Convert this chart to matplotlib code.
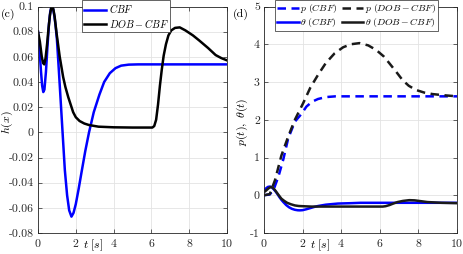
import matplotlib
matplotlib.use("Agg")
import matplotlib.pyplot as plt

plt.rcParams['font.family'] = ['cmr10', 'DejaVu Serif']
plt.rcParams['mathtext.fontset'] = 'cm'
plt.rcParams['axes.unicode_minus'] = False
plt.rcParams['axes.formatter.use_mathtext'] = True

# (c) h(x)
t_h_cbf = [0, 0.08, 0.16, 0.22, 0.28, 0.34, 0.42, 0.5, 0.58, 0.65, 0.71, 0.75, 0.8,
           0.86, 0.93, 1.0, 1.1, 1.2, 1.3, 1.42, 1.54, 1.65, 1.77, 1.88, 2.0, 2.15,
           2.3, 2.5, 2.7, 2.95, 3.25, 3.5, 3.8, 4.1, 4.4, 4.8, 5.3, 6, 8, 10]
h_cbf = [0.08, 0.066, 0.048, 0.037, 0.032, 0.034, 0.048, 0.068, 0.086, 0.096,
         0.0995, 0.1, 0.098, 0.093, 0.085, 0.074, 0.05, 0.025, 0.0, -0.03, -0.05,
         -0.062, -0.067, -0.064, -0.057, -0.045, -0.032, -0.015, 0.0, 0.016, 0.03,
         0.04, 0.047, 0.051, 0.053, 0.0538, 0.054, 0.054, 0.054, 0.054]

t_h_dob = [0, 0.1, 0.2, 0.27, 0.33, 0.4, 0.48, 0.56, 0.63, 0.7, 0.75, 0.81, 0.88,
           0.98, 1.15, 1.33, 1.45, 1.6, 1.86, 2.0, 2.2, 2.45, 2.7, 3.2, 4, 5, 6.05,
           6.15, 6.25, 6.35, 6.45, 6.55, 6.65, 6.77, 6.9, 7.05, 7.25, 7.5, 7.8, 8.2,
           8.53, 9.0, 9.4, 9.7, 10]
h_dob = [0.08, 0.072, 0.06, 0.055, 0.054, 0.059, 0.07, 0.083, 0.093, 0.099, 0.1,
         0.098, 0.092, 0.079, 0.06, 0.044, 0.036, 0.028, 0.016, 0.012, 0.009, 0.007,
         0.0058, 0.0045, 0.004, 0.0038, 0.0038, 0.005, 0.01, 0.022, 0.037, 0.05,
         0.061, 0.07, 0.077, 0.081, 0.083, 0.0834, 0.081, 0.077, 0.073, 0.067,
         0.0614, 0.059, 0.0572]

# (d) p(t), theta(t)
t_p_cbf = [0, 0.3, 0.5, 0.75, 1.0, 1.25, 1.6, 1.85, 2.0, 2.2, 2.5, 2.8, 3.2, 3.7, 10]
p_cbf = [0, 0.02, 0.15, 0.5, 0.95, 1.5, 1.95, 2.1, 2.2, 2.35, 2.48, 2.55, 2.6,
         2.62, 2.62]

t_p_dob = [0, 0.3, 0.57, 0.9, 1.25, 1.6, 2.03, 2.4, 2.8, 3.2, 3.66, 4.1, 4.5, 4.95,
           5.4, 5.81, 6.2, 6.49, 6.85, 7.18, 7.5, 7.87, 8.3, 8.73, 9.3, 10]
p_dob = [0, 0.03, 0.4, 1.05, 1.55, 2.0, 2.44, 2.85, 3.19, 3.5, 3.76, 3.92, 4.0,
         4.03, 3.97, 3.85, 3.68, 3.5, 3.27, 3.05, 2.9, 2.79, 2.72, 2.68, 2.65, 2.62]

t_th_cbf = [0, 0.1, 0.2, 0.3, 0.4, 0.5, 0.6, 0.7, 0.8, 0.9, 1.0, 1.15, 1.3, 1.45,
            1.6, 1.75, 1.86, 2.0, 2.2, 2.4, 2.6, 2.8, 2.97, 3.2, 3.4, 3.83, 4.5, 5,
            10]
th_cbf = [0.13, 0.18, 0.22, 0.23, 0.21, 0.16, 0.1, 0.03, -0.05, -0.12, -0.18,
          -0.26, -0.32, -0.36, -0.385, -0.398, -0.4, -0.395, -0.37, -0.34, -0.31,
          -0.285, -0.27, -0.25, -0.24, -0.22, -0.21, -0.2, -0.2]

t_th_dob = [0, 0.12, 0.25, 0.36, 0.46, 0.55, 0.65, 0.75, 0.9, 1.05, 1.2, 1.4, 1.6,
            1.8, 2.0, 2.45, 6.15, 6.3, 6.5, 6.7, 6.92, 7.2, 7.53, 7.8, 8.1, 8.47,
            9.2, 10]
th_dob = [0.08, 0.13, 0.19, 0.22, 0.2, 0.15, 0.08, 0.01, -0.09, -0.15, -0.2,
          -0.24, -0.27, -0.285, -0.29, -0.3, -0.3, -0.29, -0.26, -0.22, -0.18,
          -0.15, -0.13, -0.135, -0.155, -0.18, -0.2, -0.21]

xticks = [0, 2, 4, 6, 8, 10]
h_ticks = [-0.08, -0.06, -0.04, -0.02, 0, 0.02, 0.04, 0.06, 0.08, 0.1]
h_ticklabels = ['-0.08', '-0.06', '-0.04', '-0.02', '0', '0.02', '0.04', '0.06',
                '0.08', '0.1']
pd_ticks = [-1, 0, 1, 2, 3, 4, 5]
pd_ticklabels = ['-1', '0', '1', '2', '3', '4', '5']

W, H = 463, 254
fig = plt.figure(figsize=(W / 100, H / 100), dpi=100)
ax1 = fig.add_axes([38 / W, (H - 233) / H, 189 / W, 226.5 / H])
ax2 = fig.add_axes([264 / W, (H - 233) / H, 193 / W, 226.5 / H])

lw = 1.8
dash = (3.4, 2.2)

ax1.plot(t_h_cbf, h_cbf, color='#0000ff', lw=lw, label=r'$CBF$')
ax1.plot(t_h_dob, h_dob, color='k', lw=lw, label=r'$DOB-CBF$')
ax1.set_xlim(0, 10)
ax1.set_ylim(-0.08, 0.1)
ax1.set_yticks(h_ticks)
ax1.set_yticklabels(h_ticklabels)
ax1.set_ylabel(r'$h(x)$', fontsize=8.5)
ax1.yaxis.set_label_coords(-0.122, 0.49)

l_pc, = ax2.plot(t_p_cbf, p_cbf, color='#0000ff', lw=lw, dashes=dash,
                 label=r'$p\ (CBF)$')
l_pd, = ax2.plot(t_p_dob, p_dob, color='#1a1a1a', lw=lw, dashes=dash,
                 label=r'$p\ (DOB-CBF)$')
l_tc, = ax2.plot(t_th_cbf, th_cbf, color='#0000ff', lw=lw, label=r'$\theta\ (CBF)$')
l_td, = ax2.plot(t_th_dob, th_dob, color='#1a1a1a', lw=lw,
                 label=r'$\theta\ (DOB-CBF)$')
ax2.set_xlim(0, 10)
ax2.set_ylim(-1, 5)
ax2.set_yticks(pd_ticks)
ax2.set_yticklabels(pd_ticklabels)
ax2.set_ylabel(r'$p(t),\ \theta(t)$', fontsize=8.5)
ax2.yaxis.set_label_coords(-0.073, 0.49)

for ax in (ax1, ax2):
    ax.set_xticks(xticks)
    ax.grid(True, color='#e3e3e3', lw=0.6)
    ax.set_axisbelow(True)
    ax.tick_params(direction='in', length=3, width=0.5, labelsize=8.5,
                   top=True, right=True, colors='#262626', pad=3)
    for s in ax.spines.values():
        s.set_color('#262626')
        s.set_linewidth(0.6)
    ax.set_xlabel(r'$t\ [s]$', fontsize=8.5, va='center')
    ax.xaxis.set_label_coords(0.29, -0.053)

leg1 = ax1.legend(loc='upper center', bbox_to_anchor=(0.466, 1.027), fontsize=7.3,
                  fancybox=False, edgecolor='#262626', framealpha=1,
                  handlelength=2.2, handletextpad=0.25, borderpad=0.2,
                  labelspacing=0.15, borderaxespad=0)
leg1.get_frame().set_linewidth(0.5)

leg2 = ax2.legend(handles=[l_pc, l_tc, l_pd, l_td], ncol=2, loc='upper center',
                  bbox_to_anchor=(0.48, 1.027), fontsize=7.0, fancybox=False,
                  edgecolor='#262626', framealpha=1, handlelength=2.2,
                  handletextpad=0.2, borderpad=0.2, labelspacing=0.1,
                  columnspacing=0.4, borderaxespad=0)
leg2.get_frame().set_linewidth(0.5)

fig.text(1 / W, 1 - 14 / H, '(c)', fontsize=8.5, va='center', ha='left')
fig.text(233 / W, 1 - 14 / H, '(d)', fontsize=8.5, va='center', ha='left')

fig.savefig('out.png', dpi=100)
